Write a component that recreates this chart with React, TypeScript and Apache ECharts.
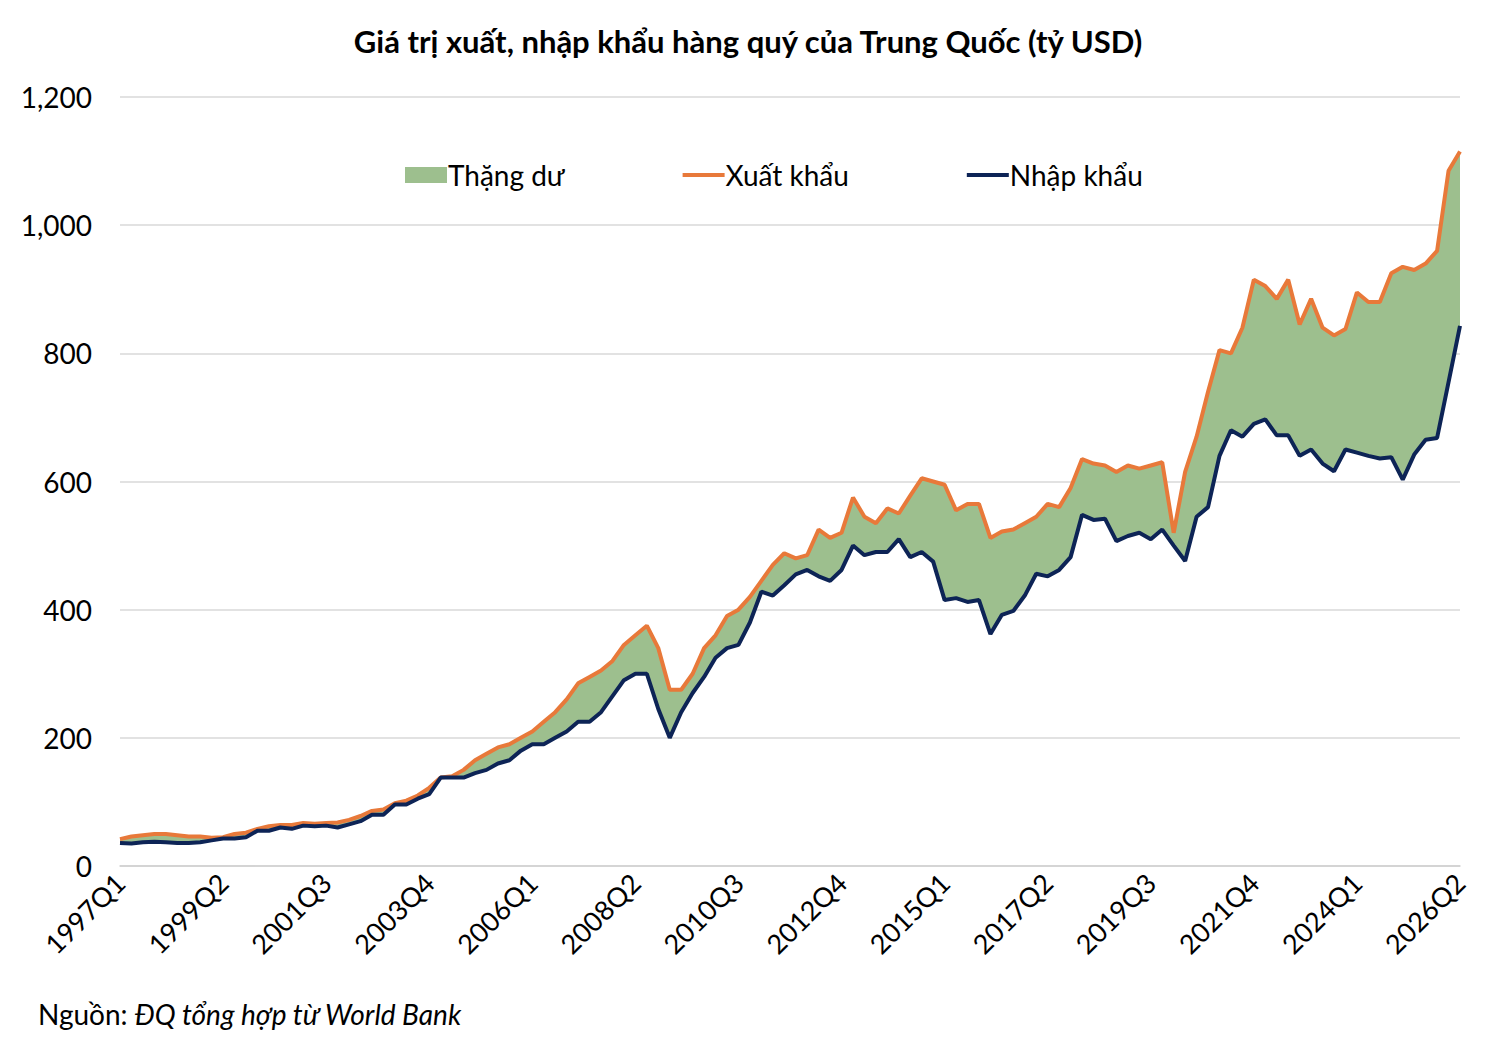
import React, { useEffect, useRef } from 'react';
import * as echarts from 'echarts';

// quarters 1997Q1 .. 2026Q2
const quarters: string[] = [];
for (let y = 1997; y <= 2026; y++) {
  for (let q = 1; q <= 4; q++) {
    if (y === 2026 && q > 2) break;
    quarters.push(`${y}Q${q}`);
  }
}

const exportsData = [
  42, 46, 48, 50, 50, 48, 46, 46, 44, 45,
  50, 52, 58, 62, 64, 64, 67, 66, 67, 68,
  72, 78, 86, 88, 98, 102, 110, 122,
  138, 140, 150, 165, 175, 185, 190, 200,
  210, 225, 240, 260, 285, 295, 305, 320,
  345, 360, 375, 340, 275, 275, 300, 340,
  360, 390, 400, 420, 445, 470, 488, 480,
  485, 525, 512, 520, 575, 545, 535, 558,
  550, 578, 605, 600, 595, 555, 565, 565,
  512, 522, 525, 535, 545, 565, 560, 590,
  635, 628, 625, 615, 625, 620, 625, 630,
  520, 615, 670, 740, 805, 800, 840, 915,
  905, 885, 915, 845, 885, 840, 828, 838,
  895, 880, 880, 925, 935, 930, 940, 960,
  1085, 1115,
];

const importsData = [
  36, 35, 37, 38, 37, 36, 36, 37, 40, 43,
  43, 45, 55, 55, 60, 58, 63, 62, 63, 60,
  65, 70, 80, 80, 96, 96, 105, 112,
  138, 138, 138, 145, 150, 160, 165, 180,
  190, 190, 200, 210, 225, 225, 240, 265,
  290, 300, 300, 245, 200, 240, 270, 295,
  325, 340, 345, 380, 428, 422, 438, 455,
  462, 452, 445, 462, 500, 485, 490, 490,
  510, 482, 490, 475, 415, 418, 412, 415,
  362, 392, 398, 422, 456, 452, 462, 482,
  548, 540, 542, 507, 515, 520, 510, 525,
  500, 476, 545, 560, 640, 680, 670, 690,
  697, 672, 672, 640, 650, 628, 616, 650,
  645, 640, 636, 638, 603, 642, 665, 668,
  755, 843,
];

const yTicks = [0, 200, 400, 600, 800, 1000, 1200];

const App = () => {
  const chartRef = useRef<HTMLDivElement>(null);

  useEffect(() => {
    if (!chartRef.current) return;
    const chart = echarts.init(chartRef.current, null, { renderer: 'svg' });
    const surplus = exportsData.map((v, i) => v - importsData[i]);
    const font = 'Lato';

    chart.setOption({
      animation: false,
      textStyle: { fontFamily: font },
      title: {
        text: 'Giá trị xuất, nhập khẩu hàng quý của Trung Quốc (tỷ USD)',
        left: 'center',
        top: 20,
        textStyle: { fontFamily: font, fontSize: 31, fontWeight: 'bold', color: '#000' },
      },
      legend: {
        top: 156,
        left: 400,
        itemGap: 118,
        itemWidth: 42,
        itemHeight: 16,
        textStyle: { fontFamily: font, fontSize: 28, color: '#000', padding: [0, 0, 0, -4] },
        data: [
          { name: 'Thặng dư', icon: 'rect' },
          { name: 'Xuất khẩu', icon: 'path://M0,0 L40,0 L40,4 L0,4 Z', itemStyle: { color: '#e8793a' } },
          { name: 'Nhập khẩu', icon: 'path://M0,0 L40,0 L40,4 L0,4 Z', itemStyle: { color: '#0d2456' } },
        ],
      },
      grid: { left: 120, right: 36, top: 97, bottom: 184 },
      xAxis: {
        type: 'category',
        data: quarters,
        boundaryGap: false,
        axisLine: { lineStyle: { color: '#d0d0d0', width: 1.5 } },
        axisTick: { show: false },
        axisLabel: {
          interval: 8,
          rotate: 45,
          fontSize: 27,
          color: '#000',
          margin: 12,
          fontFamily: font,
        },
        splitLine: { show: false },
      },
      yAxis: {
        type: 'value',
        min: yTicks[0],
        max: yTicks[yTicks.length - 1],
        interval: 200,
        axisLine: { show: false },
        axisTick: { show: false },
        axisLabel: {
          fontSize: 28,
          color: '#000',
          margin: 28,
          fontFamily: font,
          formatter: (v: number) => v.toLocaleString('en-US'),
        },
        splitLine: { lineStyle: { color: '#d9d9d9', width: 1.5 } },
      },
      series: [
        {
          name: 'base',
          type: 'line',
          stack: 's',
          data: importsData,
          symbol: 'none',
          lineStyle: { width: 0, opacity: 0 },
          silent: true,
        },
        {
          name: 'Thặng dư',
          type: 'line',
          stack: 's',
          data: surplus,
          symbol: 'none',
          lineStyle: { width: 0, opacity: 0 },
          itemStyle: { color: '#9dbf8e' },
          areaStyle: { color: '#9dbf8e', opacity: 1 },
        },
        {
          name: 'Xuất khẩu',
          type: 'line',
          data: exportsData,
          symbol: 'none',
          itemStyle: { color: '#e8793a' },
          lineStyle: { color: '#e8793a', width: 4 },
        },
        {
          name: 'Nhập khẩu',
          type: 'line',
          data: importsData,
          symbol: 'none',
          itemStyle: { color: '#0d2456' },
          lineStyle: { color: '#0d2456', width: 4 },
        },
      ],
      graphic: [
        {
          type: 'text',
          left: 38,
          top: 1000,
          style: {
            text: '{n|Nguồn: }{i|ĐQ tổng hợp từ World Bank}',
            rich: {
              n: { fontFamily: font, fontSize: 28, fill: '#000' },
              i: { fontFamily: font, fontSize: 28, fontStyle: 'italic', fill: '#000' },
            },
          },
        },
      ],
    });

    return () => chart.dispose();
  }, []);

  return (
    <div
      ref={chartRef}
      style={{ position: 'fixed', top: 0, left: 0, width: 1496, height: 1050, background: '#fff' }}
    />
  );
};

export default App;
